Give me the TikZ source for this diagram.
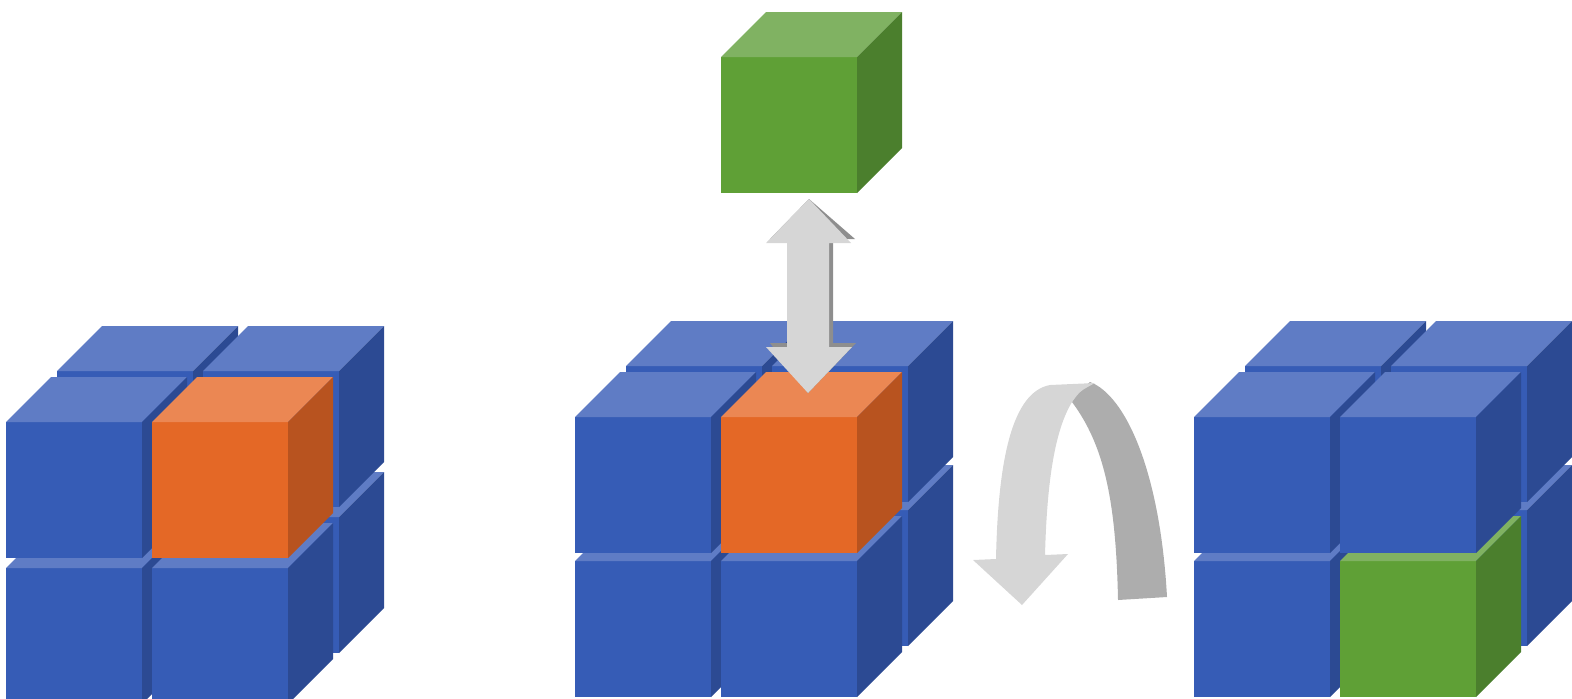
\documentclass[tikz,border=0pt]{standalone}
\definecolor{bluefront}{HTML}{365CB6}
\definecolor{bluetop}{HTML}{5F7CC5}
\definecolor{blueside}{HTML}{2C4A93}
\definecolor{orangefront}{HTML}{E46826}
\definecolor{orangetop}{HTML}{EB8753}
\definecolor{orangeside}{HTML}{B8531F}
\definecolor{greenfront}{HTML}{5FA036}
\definecolor{greentop}{HTML}{80B262}
\definecolor{greenside}{HTML}{4B7F2D}
\definecolor{arrowlight}{HTML}{D6D6D6}
\definecolor{arrowdark}{HTML}{ADADAD}
\definecolor{arrowshadow}{HTML}{8E8E8E}
\tikzset{
  pics/cube/.style={code={
    \fill[#1front] (0,0) rectangle (136,136);
    \fill[#1top] (0,0) -- (45,-45) -- (181,-45) -- (136,0) -- cycle;
    \fill[#1side] (136,0) -- (181,-45) -- (181,91) -- (136,136) -- cycle;
  }},
  lightpart/.style={fill=arrowlight},
  darkpart/.style={fill=arrowdark},
  shadowpart/.style={fill=arrowshadow},
}
% #1 x, #2 y of top row, #3 y of bottom row, #4 colour front top-right, #5 colour front bottom-right
\newcommand\cubegroup[5]{%
  \pic at ({#1+51},{#3-51}) {cube=blue};
  \pic at ({#1+197},{#3-51}) {cube=blue};
  \pic at ({#1+51},{#2-51}) {cube=blue};
  \pic at ({#1+197},{#2-51}) {cube=blue};
  \pic at (#1,#3) {cube=blue};
  \pic at ({#1+146},#3) {cube=#5};
  \pic at (#1,#2) {cube=blue};
  \pic at ({#1+146},#2) {cube=#4};
}
\begin{document}
\begin{tikzpicture}[x=0.5pt,y=-0.5pt]
\useasboundingbox (0,0) rectangle (1572,698);
\clip (0,0) rectangle (1572,698);
% left group
\cubegroup{6}{422}{568}{orange}{blue}
% middle group
\cubegroup{575}{417}{561}{orange}{blue}
% green cube on top
\pic at (721,57) {cube=green};
% double arrow
\coordinate (atop) at (809,199);
\coordinate (abot) at (808,393);
\fill[shadowpart, shift={(4,-4)}] (atop) -- (851,243) -- (829,243) -- (829,347) -- (852,347) -- (abot) -- (766,347) -- (787,347) -- (787,243) -- (766,243) -- cycle;
\fill[lightpart] (atop) -- (851,243) -- (829,243) -- (829,347) -- (852,347) -- (abot) -- (766,347) -- (787,347) -- (787,243) -- (766,243) -- cycle;
% curved arrow
\coordinate (ctop) at (1090,382);
\coordinate (cjoin) at (1072,402);
\coordinate (ctip) at (1022,605);
\fill[darkpart] (ctop) .. controls (1125,395) and (1160,470) .. (1167,597)
  -- (1118,600) .. controls (1116,500) and (1104,445) .. (cjoin)
  .. controls (1078,392) .. (ctop) -- cycle;
\fill[lightpart] (973,560) -- (ctip) -- (1068,554) -- (1045,555)
  .. controls (1047,480) and (1055,430) .. (cjoin)
  .. controls (1080,391) .. (1095,383) -- (1050,385)
  .. controls (1012,392) and (998,460) .. (996,559) -- cycle;
% right group
\cubegroup{1194}{417}{561}{blue}{green}
\end{tikzpicture}
\end{document}
